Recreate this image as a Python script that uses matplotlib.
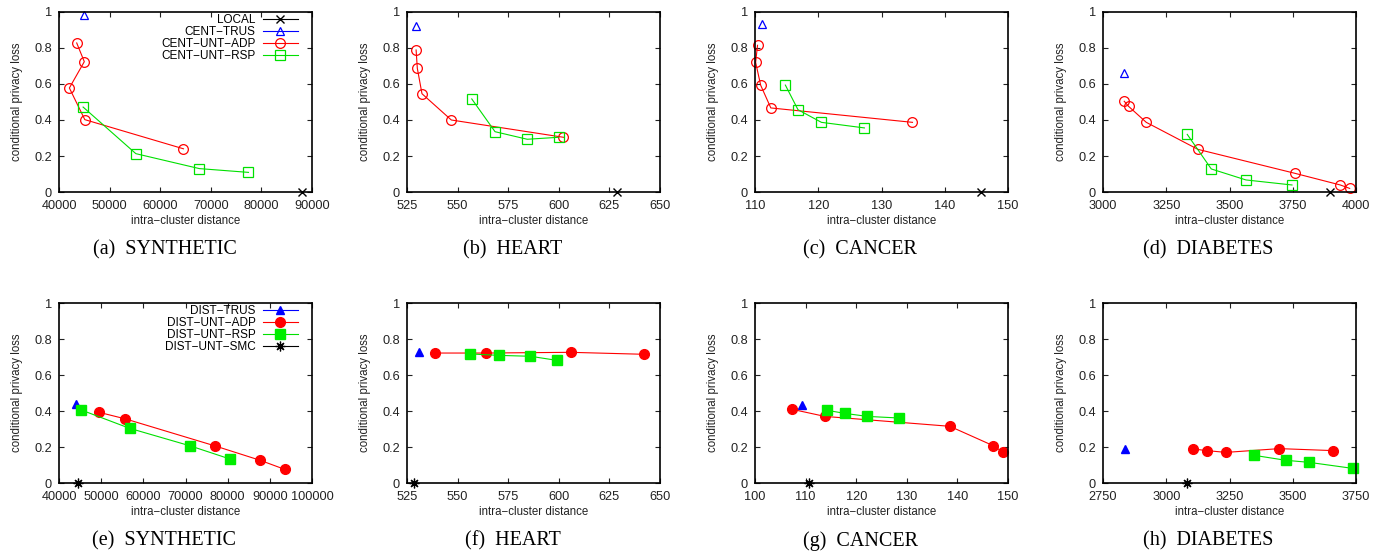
import matplotlib

matplotlib.use("Agg")
import matplotlib.pyplot as plt

plt.rcParams["font.family"] = ["Liberation Sans", "DejaVu Sans"]

# ---- top row: centralized settings -------------------------------------
syn_local = ([88000], [0.0])
syn_trus = ([45000], [0.985])
syn_adp = ([43500, 45000, 42050, 45100, 64600], [0.828, 0.724, 0.578, 0.402, 0.240])
syn_rsp = ([44760, 55190, 67740, 77450], [0.472, 0.213, 0.130, 0.109])

heart_local = ([628.6], [0.0])
heart_trus = ([529.6], [0.924])
heart_adp = ([529.5, 530.1, 532.4, 546.9, 602.3], [0.789, 0.687, 0.546, 0.400, 0.304])
heart_rsp = ([557.0, 568.5, 584.4, 600.0], [0.517, 0.335, 0.293, 0.304])

cancer_local = ([145.7], [0.0])
cancer_trus = ([111.1], [0.935])
cancer_adp = ([110.4, 110.1, 110.9, 112.5, 134.9], [0.815, 0.720, 0.593, 0.467, 0.387])
cancer_rsp = ([114.8, 116.8, 120.5, 127.3], [0.594, 0.457, 0.387, 0.356])

diab_local = ([3897], [0.0])
diab_trus = ([3082], [0.661])
diab_adp = ([3084, 3101, 3171, 3375, 3758, 3938, 3975],
            [0.504, 0.476, 0.387, 0.237, 0.104, 0.039, 0.020])
diab_rsp = ([3333, 3428, 3565, 3747], [0.320, 0.128, 0.067, 0.039])

# ---- bottom row: distributed settings -----------------------------------
dsyn_trus = ([43960], [0.441])
dsyn_adp = ([49430, 55770, 77010, 87720, 93500], [0.393, 0.356, 0.206, 0.126, 0.076])
dsyn_rsp = ([45230, 56720, 71150, 80580], [0.406, 0.304, 0.206, 0.133])
dsyn_smc = ([44440], [0.0])

dheart_trus = ([531.1], [0.730])
dheart_adp = ([538.9, 563.9, 605.8, 642.2], [0.722, 0.722, 0.726, 0.715])
dheart_rsp = ([556.2, 570.5, 586.0, 599.2], [0.717, 0.709, 0.704, 0.681])
dheart_smc = ([528.3], [0.0])

dcancer_trus = ([109.3], [0.435])
dcancer_adp = ([107.4, 113.8, 138.5, 147.1, 149.1], [0.409, 0.370, 0.315, 0.207, 0.170])
dcancer_rsp = ([114.2, 117.7, 122.2, 128.5], [0.404, 0.387, 0.370, 0.361])
dcancer_smc = ([110.7], [0.0])

ddiab_trus = ([2836], [0.189])
ddiab_adp = ([3107, 3160, 3236, 3447, 3659], [0.189, 0.180, 0.170, 0.191, 0.180])
ddiab_rsp = ([3346, 3473, 3563, 3738], [0.154, 0.126, 0.115, 0.081])
ddiab_smc = ([3081], [0.0])

y_ticks = [0, 0.2, 0.4, 0.6, 0.8, 1]
y_tick_labels = ["0", "0.2", "0.4", "0.6", "0.8", "1"]

top_xticks = [
    [40000, 50000, 60000, 70000, 80000, 90000],
    [525, 550, 575, 600, 625, 650],
    [110, 120, 130, 140, 150],
    [3000, 3250, 3500, 3750, 4000],
]
bottom_xticks = [
    [40000, 50000, 60000, 70000, 80000, 90000, 100000],
    [525, 550, 575, 600, 625, 650],
    [100, 110, 120, 130, 140, 150],
    [2750, 3000, 3250, 3500, 3750],
]
top_captions = ["(a)  SYNTHETIC", "(b)  HEART", "(c)  CANCER", "(d)  DIABETES"]
bottom_captions = ["(e)  SYNTHETIC", "(f)  HEART", "(g)  CANCER", "(h)  DIABETES"]

W, H = 1385, 556
fig = plt.figure(figsize=(W / 100, H / 100), dpi=100)

LEFTS = [59, 407, 755, 1103]
AX_W, AX_H = 253, 180
LW = 0.8
GREEN = "#00e000"


def make_axes(left_px, top_px, xticks):
    ax = fig.add_axes([left_px / W, 1 - (top_px + AX_H) / H, AX_W / W, AX_H / H])
    ax.set_xlim(xticks[0], xticks[-1])
    ax.set_ylim(0, 1)
    ax.set_xticks(xticks)
    ax.set_xticklabels([str(t) for t in xticks])
    ax.set_yticks(y_ticks)
    ax.set_yticklabels(y_tick_labels)
    ax.tick_params(direction="in", top=True, right=True, length=3.5, width=0.8,
                   labelsize=9.2, colors="#222222", labelcolor="#222222")
    ax.tick_params(axis="y", pad=5)
    ax.tick_params(axis="x", pad=5.5)
    for sp in ax.spines.values():
        sp.set_linewidth(1.2)
    ax.set_xlabel("intra\u2212cluster distance", fontsize=8.3, labelpad=2.5, color="#222222")
    ax.set_ylabel("conditional privacy loss", fontsize=8.3, labelpad=8, color="#222222")
    return ax


def add_legend(ax):
    ax.legend(loc="upper right", bbox_to_anchor=(1 - 14 / AX_W, 1 - 2 / AX_H),
              frameon=False, markerfirst=False, fontsize=8.5, handlelength=3.0,
              labelspacing=0.0, borderaxespad=0, borderpad=0,
              handletextpad=0.6, numpoints=1)


def caption(ax, text, y_px):
    x0, _, w, _ = ax.get_position().bounds
    fig.text(x0 + w / 2 - 21 / W, 1 - y_px / H, text, ha="center", va="center",
             fontsize=14.5, family="Liberation Serif")


top = [
    (syn_local, syn_trus, syn_adp, syn_rsp),
    (heart_local, heart_trus, heart_adp, heart_rsp),
    (cancer_local, cancer_trus, cancer_adp, cancer_rsp),
    (diab_local, diab_trus, diab_adp, diab_rsp),
]
for i, (loc, trus, adp, rsp) in enumerate(top):
    ax = make_axes(LEFTS[i], 12, top_xticks[i])
    ax.plot(*loc, color="black", lw=LW, marker="x", ms=6, mew=1.0, label="LOCAL",
            clip_on=False)
    ax.plot(*trus, color="blue", lw=LW, marker="^", ms=6, mfc="none", mew=0.9,
            label="CENT\u2212TRUS", clip_on=False)
    ax.plot(*adp, color="red", lw=LW, marker="o", ms=7, mfc="none", mew=0.9,
            label="CENT\u2212UNT\u2212ADP", clip_on=False)
    ax.plot(*rsp, color=GREEN, lw=LW, marker="s", ms=7.5, mfc="none", mew=0.9,
            label="CENT\u2212UNT\u2212RSP", clip_on=False)
    if i == 0:
        add_legend(ax)
    caption(ax, top_captions[i], 250)

bottom = [
    (dsyn_trus, dsyn_adp, dsyn_rsp, dsyn_smc),
    (dheart_trus, dheart_adp, dheart_rsp, dheart_smc),
    (dcancer_trus, dcancer_adp, dcancer_rsp, dcancer_smc),
    (ddiab_trus, ddiab_adp, ddiab_rsp, ddiab_smc),
]
for i, (trus, adp, rsp, smc) in enumerate(bottom):
    ax = make_axes(LEFTS[i], 303, bottom_xticks[i])
    ax.plot(*trus, color="blue", lw=LW, marker="^", ms=5.5, label="DIST\u2212TRUS",
            clip_on=False)
    ax.plot(*adp, color="red", lw=LW, marker="o", ms=7, label="DIST\u2212UNT\u2212ADP",
            clip_on=False)
    ax.plot(*rsp, color=GREEN, lw=LW, marker="s", ms=7.5, mfc="#00ee00",
            mec="#00ee00", label="DIST\u2212UNT\u2212RSP", clip_on=False)
    ax.plot(*smc, color="black", lw=LW, marker=(8, 2, 0), ms=7, mew=0.9,
            label="DIST\u2212UNT\u2212SMC", clip_on=False)
    if i == 0:
        add_legend(ax)
    caption(ax, bottom_captions[i], 541)

fig.savefig("out.png", dpi=100)
